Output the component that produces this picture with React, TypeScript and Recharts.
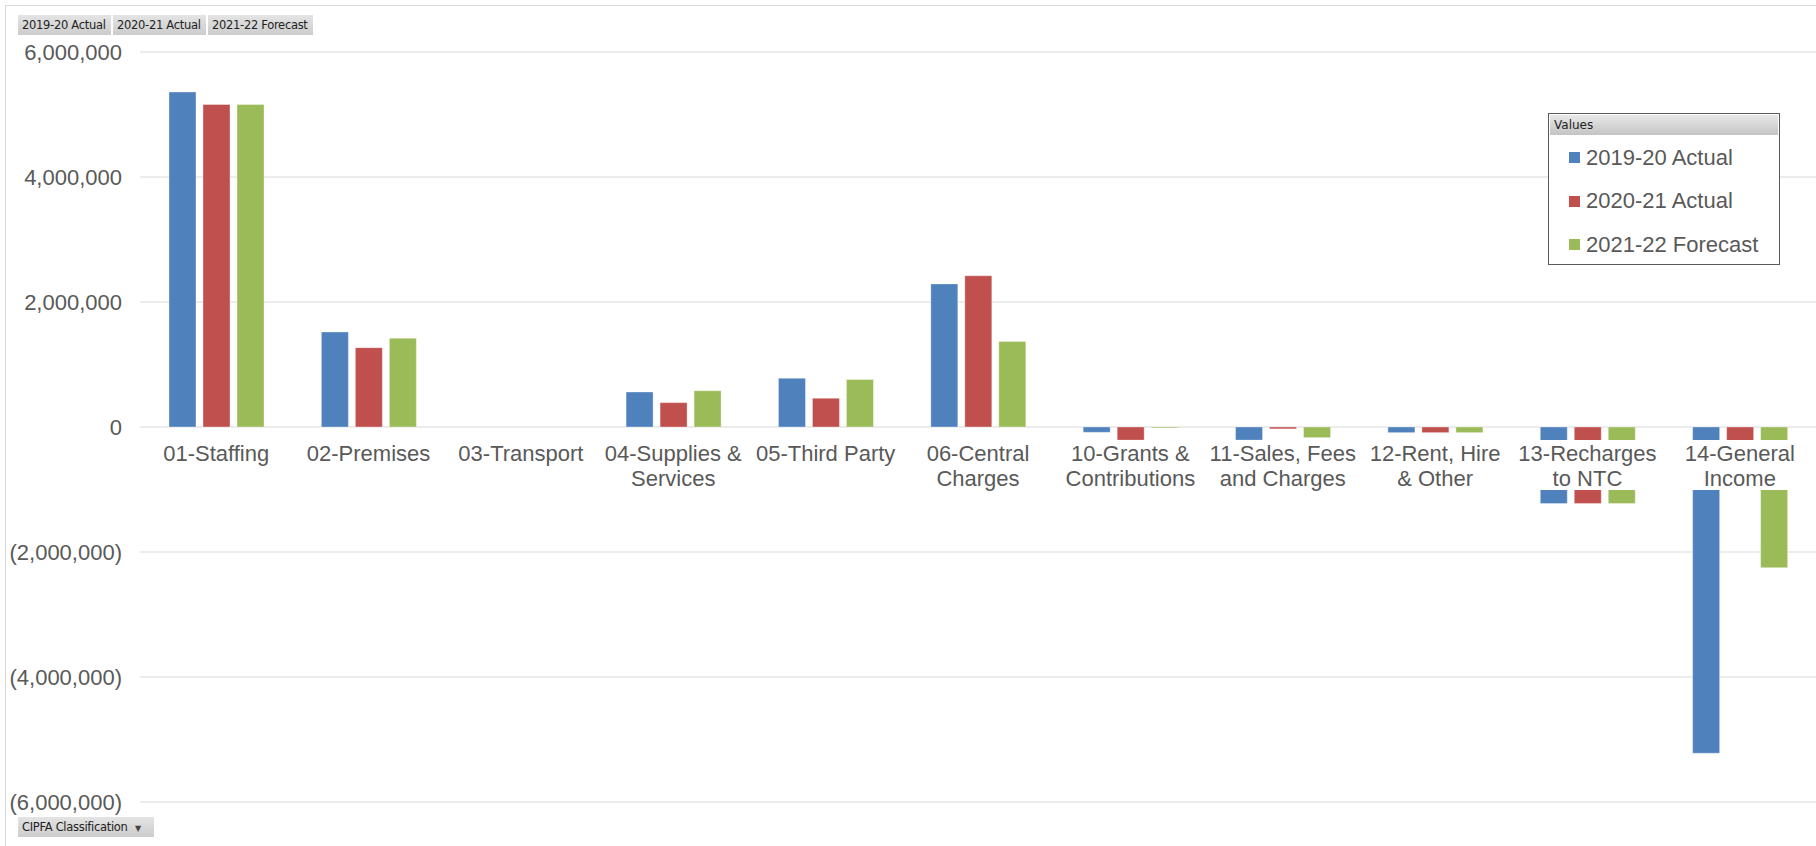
import React from 'react';
import { BarChart, Bar, XAxis, YAxis, CartesianGrid, Legend } from 'recharts';

const categories = [
  '01-Staffing',
  '02-Premises',
  '03-Transport',
  '04-Supplies &\nServices',
  '05-Third Party',
  '06-Central\nCharges',
  '10-Grants &\nContributions',
  '11-Sales, Fees\nand Charges',
  '12-Rent, Hire\n& Other',
  '13-Recharges\nto NTC',
  '14-General\nIncome',
];
const actual1920 = [5360000, 1520000, 0, 560000, 780000, 2290000, -85000, -210000, -90000, -1225000, -5220000];
const actual2021 = [5160000, 1270000, 0, 390000, 460000, 2420000, -210000, -30000, -90000, -1225000, -600000];
const forecast2122 = [5160000, 1420000, 0, 580000, 760000, 1370000, -15000, -170000, -90000, -1225000, -2250000];
const seriesNames = ['2019-20 Actual', '2020-21 Actual', '2021-22 Forecast'];
const seriesColors = ['#4f81bd', '#c0504d', '#9bbb59'];
const yTicks = [-6000000, -4000000, -2000000, 0, 2000000, 4000000, 6000000];

const data = categories.map((name, i) => ({
  name,
  a: actual1920[i],
  b: actual2021[i],
  c: forecast2122[i],
}));

const W = 1816;
const H = 846;
const YAXIS_W = 140;
const MARGIN = { top: 52, right: 0, left: 0, bottom: 43 };
const XAXIS_H = 1;
const PLOT_H = H - MARGIN.top - MARGIN.bottom - XAXIS_H;
const PLOT_W = W - YAXIS_W - MARGIN.left - MARGIN.right;
const ZERO_Y = MARGIN.top + PLOT_H / 2;
const BAND = PLOT_W / categories.length;
const FONT = '"Liberation Sans", Arial, sans-serif';
const TEXT_COLOR = '#595959';

const fmt = (v: number) => {
  if (v === 0) return '0';
  const s = Math.abs(v).toLocaleString('en-US');
  return v < 0 ? `(${s})` : s;
};

const CategoryTick = (props: any) => {
  const { x, payload } = props;
  const lines = String(payload.value).split('\n');
  return (
    <g>
      <rect x={x - BAND / 2 + 4} y={ZERO_Y + 13} width={BAND - 8} height={50} fill="#ffffff" />
      <text
        x={x}
        y={ZERO_Y + 26}
        textAnchor="middle"
        fill={TEXT_COLOR}
        fontSize={22}
        fontFamily={FONT}
      >
        {lines.map((l, i) => (
          <tspan key={i} x={x} dy={i === 0 ? '0.35em' : 25}>
            {l}
          </tspan>
        ))}
      </text>
    </g>
  );
};

const renderLegend = (props: any) => {
  const { payload } = props;
  return (
    <div
      style={{
        width: 232,
        height: 152,
        border: '1.5px solid #5a5a5a',
        background: '#fff',
        boxSizing: 'border-box',
        fontFamily: FONT,
      }}
    >
      <div
        style={{
          margin: 1,
          height: 20,
          background: 'linear-gradient(#e8e8e8, #c4c4c4)',
          fontSize: 12,
          lineHeight: '20px',
          paddingLeft: 4,
          color: '#222',
          fontFamily: 'Tahoma, "DejaVu Sans", sans-serif',
        }}
      >
        Values
      </div>
      <div style={{ paddingTop: 0 }}>
        {(payload || []).map((p: any, i: number) => (
          <div
            key={i}
            style={{
              display: 'flex',
              alignItems: 'center',
              height: 43.5,
              paddingLeft: 20,
            }}
          >
            <span
              style={{
                display: 'inline-block',
                width: 11,
                height: 11,
                background: p.color,
                marginRight: 6,
              }}
            />
            <span style={{ fontSize: 22, color: TEXT_COLOR }}>{p.value}</span>
          </div>
        ))}
      </div>
    </div>
  );
};

const btnStyle: React.CSSProperties = {
  position: 'absolute',
  height: 20,
  background: 'linear-gradient(#e4e4e4, #cccccc)',
  fontFamily: 'Tahoma, "DejaVu Sans", "Liberation Sans", sans-serif',
  fontSize: 11.5,
  lineHeight: '20px',
  color: '#222',
  paddingLeft: 4,
  boxSizing: 'border-box',
  whiteSpace: 'nowrap',
  letterSpacing: '-0.3px',
};

export default function App() {
  return (
    <div style={{ position: 'absolute', left: 0, top: 0, width: W, height: H, overflow: 'hidden', background: '#fff' }}>
      <div
        style={{
          position: 'absolute',
          left: 5,
          top: 5,
          width: W,
          height: H,
          borderLeft: '1px solid #d9d9d9',
          borderTop: '1px solid #d9d9d9',
        }}
      />
      <div style={{ position: 'absolute', left: 0, top: 0 }}>
        <BarChart
          width={W}
          height={H}
          data={data}
          margin={MARGIN}
          barCategoryGap={29}
          barGap={7}
        >
          <CartesianGrid vertical={false} stroke="#d9d9d9" />
          <YAxis
            width={YAXIS_W}
            domain={[-6000000, 6000000]}
            ticks={yTicks}
            tickFormatter={fmt}
            axisLine={false}
            tickLine={false}
            tickSize={0}
            tickMargin={18}
            tick={{ fill: TEXT_COLOR, fontSize: 22, fontFamily: FONT }}
            interval={0}
          />
          <Bar dataKey="a" name={seriesNames[0]} fill={seriesColors[0]} stroke="#ffffff" strokeOpacity={0.35} isAnimationActive={false} />
          <Bar dataKey="b" name={seriesNames[1]} fill={seriesColors[1]} stroke="#ffffff" strokeOpacity={0.35} isAnimationActive={false} />
          <Bar dataKey="c" name={seriesNames[2]} fill={seriesColors[2]} stroke="#ffffff" strokeOpacity={0.35} isAnimationActive={false} />
          <XAxis
            dataKey="name"
            height={XAXIS_H}
            axisLine={false}
            tickLine={false}
            interval={0}
            tick={<CategoryTick />}
          />
          <Legend
            layout="horizontal"
            verticalAlign="middle"
            align="center"
            content={renderLegend}
            wrapperStyle={{ position: 'absolute', left: 1548, top: 113, width: 232, height: 152 }}
          />
        </BarChart>
      </div>
      <div style={{ ...btnStyle, left: 18, top: 15, width: 93 }}>{seriesNames[0]}</div>
      <div style={{ ...btnStyle, left: 113, top: 15, width: 93 }}>{seriesNames[1]}</div>
      <div style={{ ...btnStyle, left: 208, top: 15, width: 105 }}>{seriesNames[2]}</div>
      <div style={{ ...btnStyle, left: 18, top: 817, width: 136 }}>
        CIPFA Classification <span style={{ fontSize: 8, marginLeft: 4, color: '#444' }}>▼</span>
      </div>
    </div>
  );
}
